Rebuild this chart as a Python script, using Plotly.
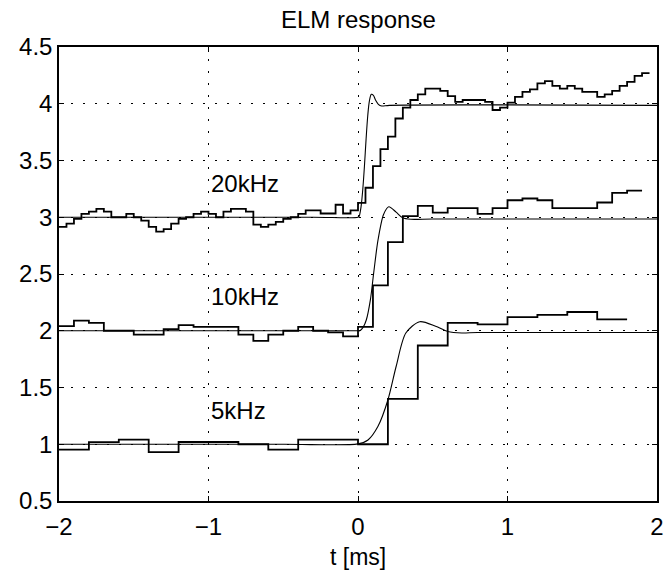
"""ELM response: sampled steps at 5/10/20 kHz against the smooth filter response."""
import plotly.graph_objects as go

# stepped (sampled) signals: value held over each sample period, starting at t = -2 ms
steps_5k = [0.953, 1.018, 1.04, 0.93, 1.02, 1.02, 1.0, 0.953, 1.04, 1.04,
            1.0, 1.40, 1.87, 2.07, 2.056, 2.12, 2.14, 2.165, 2.10]
steps_10k = [2.04, 2.09, 2.07, 2.0, 2.0, 1.965, 1.965, 2.015, 2.05, 2.035,
             2.035, 2.035, 1.965, 1.91, 1.965, 2.0, 2.035, 2.0, 1.985, 1.95,
             2.035, 2.40, 2.78, 3.01, 3.10, 3.04, 3.08, 3.08, 3.03, 3.08,
             3.15, 3.165, 3.15, 3.08, 3.08, 3.08, 3.13, 3.215, 3.235]
steps_20k = [2.915, 2.944, 2.985, 3.03, 3.05, 3.074, 3.05, 3.0, 3.0, 3.03,
             3.0, 2.97, 2.915, 2.873, 2.896, 2.944, 2.985, 3.0, 3.03, 3.05,
             3.03, 3.0, 3.05, 3.074, 3.074, 3.05, 2.935, 2.915, 2.935, 2.96,
             2.985, 3.0, 3.03, 3.06, 3.06, 3.033, 3.033, 3.11, 3.033, 3.06,
             3.127, 3.26, 3.45, 3.60, 3.71, 3.87, 3.966, 4.033, 4.083, 4.134,
             4.134, 4.113, 4.068, 4.016, 4.033, 4.033, 4.033, 4.016, 3.945, 3.966,
             4.01, 4.06, 4.104, 4.127, 4.18, 4.2, 4.157, 4.134, 4.157, 4.134,
             4.104, 4.104, 4.06, 4.083, 4.113, 4.157, 4.192, 4.245, 4.269]
periods = {'5kHz': 0.2, '10kHz': 0.1, '20kHz': 0.05}

# smooth responses
resp5_t = [-2, -0.5, 0, 0.067, 0.133, 0.2, 0.255, 0.32, 0.413, 0.519, 0.6, 0.695, 0.8, 2]
resp5_v = [1, 1, 1.003, 1.038, 1.156, 1.39, 1.685, 1.98, 2.08, 2.04, 1.994, 1.98, 1.985, 1.985]
resp10_t = [-2, -0.3, 0, 0.012, 0.034, 0.056, 0.083, 0.105, 0.134, 0.171, 0.206, 0.255, 0.299, 0.354, 0.5, 2]
resp10_v = [2, 2, 2, 2.0, 2.03, 2.097, 2.274, 2.51, 2.80, 3.024, 3.092, 3.045, 2.995, 2.982, 2.985, 2.985]
resp20_t = [-2, -0.3, 0, 0.008, 0.021, 0.032, 0.043, 0.054, 0.065, 0.076, 0.089, 0.103, 0.118, 0.136, 0.158, 0.21, 2]
resp20_v = [3, 3, 3, 3.01, 3.098, 3.245, 3.45, 3.686, 3.892, 4.024, 4.083, 4.074, 4.03, 3.995, 3.98, 3.986, 3.986]

labels = ['5kHz', '10kHz', '20kHz']
label_y = [1.3, 2.3, 3.3]

FONT = 'Liberation Sans, Arial, Helvetica, sans-serif'

fig = go.Figure()
for name, vals in zip(labels, [steps_5k, steps_10k, steps_20k]):
    fig.add_trace(go.Scatter(y=vals + [vals[-1]], x0=-2, dx=periods[name], mode='lines',
                             line=dict(color='black', width=1.8, shape='hv'), showlegend=False))
for t, v in [(resp5_t, resp5_v), (resp10_t, resp10_v), (resp20_t, resp20_v)]:
    fig.add_trace(go.Scatter(x=t, y=v, mode='lines',
                             line=dict(color='black', width=1.1, shape='spline', smoothing=0.8),
                             showlegend=False))

for lab, yy in zip(labels, label_y):
    fig.add_annotation(x=-1, y=yy, text=lab, showarrow=False, xanchor='left', yanchor='middle',
                       font=dict(family=FONT, size=24, color='black'))

fig.add_annotation(x=0.5, y=1, xref='paper', yref='paper', yshift=28, text='ELM response',
                   showarrow=False, xanchor='center', yanchor='middle',
                   font=dict(family=FONT, size=24, color='black'))
fig.add_annotation(x=0.5, y=0, xref='paper', yref='paper', yshift=-70, text='t [ms]',
                   showarrow=False, xanchor='center', yanchor='bottom', borderpad=0,
                   font=dict(family=FONT, size=23, color='black'))

axis_style = dict(showline=True, linecolor='black', linewidth=1.5, mirror='ticks',
                  ticks='inside', ticklen=5, tickcolor='black', tickwidth=1,
                  showgrid=True, gridcolor='black', gridwidth=1, griddash='2px,10px',
                  zeroline=False, ticklabeloverflow='allow',
                  tickfont=dict(family=FONT, size=24, color='black'))
fig.update_xaxes(range=[-2, 2], tickvals=[-2, -1, 0, 1, 2], ticklabelstandoff=3, **axis_style)
fig.update_yaxes(range=[0.5, 4.5], tick0=0.5, dtick=0.5, **axis_style)

fig.update_layout(width=666, height=574, margin=dict(l=59, r=2, t=47, b=73, pad=0),
                  plot_bgcolor='white', paper_bgcolor='white', showlegend=False)

# page body has an 8px default margin; drop it so the figure sits at the window corner
fig.write_html('out.html', config={'displayModeBar': False},
               post_script="document.body.style.margin='0';")
